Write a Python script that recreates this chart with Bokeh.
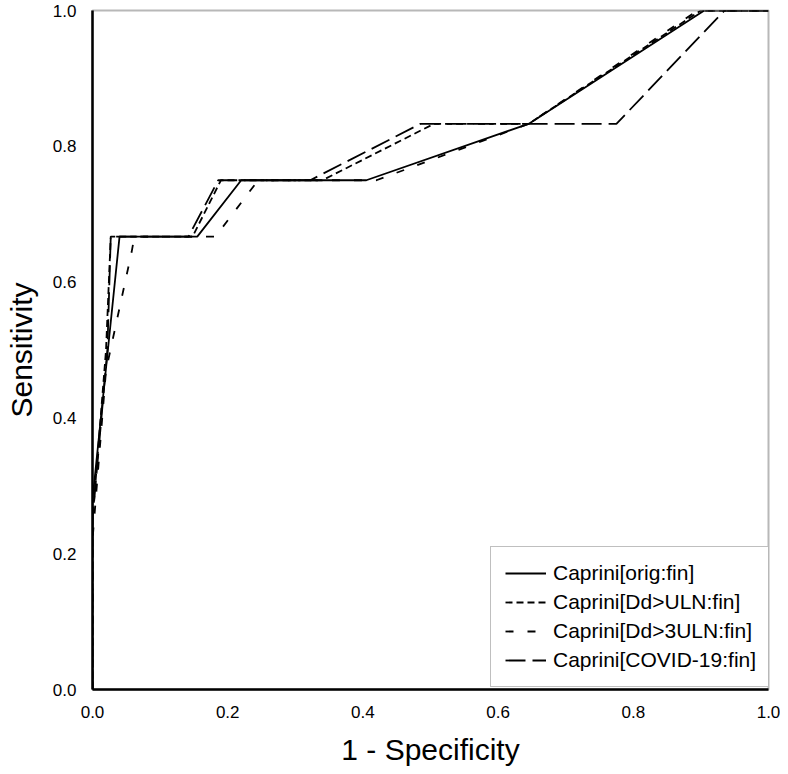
from bokeh.plotting import figure
from bokeh.models import Range1d, FixedTicker, PrintfTickFormatter, Legend, LegendItem
from bokeh.embed import file_html
from bokeh.resources import INLINE

# ROC curves: (1 - specificity, sensitivity)
orig_x = [0.0, 0.0, 0.040, 0.155, 0.220, 0.405, 0.645, 0.905, 1.0]
orig_y = [0.0, 0.28, 0.667, 0.667, 0.750, 0.750, 0.833, 1.0, 1.0]

uln_x = [0.0, 0.0, 0.020, 0.027, 0.148, 0.190, 0.340, 0.505, 0.645, 0.900, 1.0]
uln_y = [0.0, 0.25, 0.50, 0.667, 0.667, 0.750, 0.750, 0.833, 0.833, 1.0, 1.0]

uln3_x = [0.0, 0.0, 0.020, 0.058, 0.062, 0.182, 0.245, 0.420, 0.645, 0.895, 1.0]
uln3_y = [0.0, 0.22, 0.47, 0.645, 0.667, 0.667, 0.750, 0.750, 0.833, 1.0, 1.0]

covid_x = [0.0, 0.0, 0.022, 0.027, 0.142, 0.186, 0.322, 0.485, 0.775, 0.935, 1.0]
covid_y = [0.0, 0.25, 0.50, 0.667, 0.667, 0.750, 0.750, 0.833, 0.833, 1.0, 1.0]

names = ["Caprini[orig:fin]", "Caprini[Dd>ULN:fin]", "Caprini[Dd>3ULN:fin]", "Caprini[COVID-19:fin]"]
ticks = [0.0, 0.2, 0.4, 0.6, 0.8, 1.0]

FONT = "Liberation Sans"

p = figure(width=780, height=768, output_backend="svg", toolbar_location=None,
           x_range=Range1d(0, 1), y_range=Range1d(0, 1),
           min_border_left=92, min_border_right=12, min_border_top=10, min_border_bottom=78)
p.grid.visible = False
p.background_fill_color = "white"
p.outline_line_color = "#b8b8b8"
p.outline_line_width = 2

for ax in (p.xaxis, p.yaxis):
    ax.ticker = FixedTicker(ticks=ticks)
    ax.formatter = PrintfTickFormatter(format="%.1f")
    ax.major_tick_line_color = None
    ax.minor_tick_line_color = None
    ax.axis_line_color = "black"
    ax.axis_line_width = 2.5
    ax.major_label_text_font = FONT
    ax.major_label_text_font_size = "17px"
    ax.major_label_text_color = "black"
    ax.axis_label_text_font = FONT
    ax.axis_label_text_font_size = "30px"
    ax.axis_label_text_font_style = "normal"
    ax.axis_label_text_color = "black"
    ax.major_label_standoff = 10

p.xaxis.axis_label = "1 - Specificity"
p.yaxis.axis_label = "Sensitivity"
p.xaxis.axis_label_standoff = 12
p.yaxis.axis_label_standoff = 12

r1 = p.line(orig_x, orig_y, line_color="black", line_width=1.8)
r2 = p.line(uln_x, uln_y, line_color="black", line_width=1.8, line_dash="7 4")
r3 = p.line(uln3_x, uln3_y, line_color="black", line_width=1.8, line_dash="8 14")
r4 = p.line(covid_x, covid_y, line_color="black", line_width=1.8, line_dash="20 7")

legend = Legend(items=[LegendItem(label=n, renderers=[r]) for n, r in zip(names, [r1, r2, r3, r4])],
                location=(398, 2))
legend.label_text_font = FONT
legend.label_text_font_size = "21px"
legend.label_text_color = "black"
legend.glyph_width = 41
legend.glyph_height = 24
legend.label_height = 24
legend.spacing = 5
legend.padding = 14
legend.margin = 0
legend.label_standoff = 7
legend.border_line_color = "#808080"
legend.border_line_width = 1
legend.background_fill_alpha = 1.0
p.add_layout(legend)

open("out.html", "w").write(file_html(p, INLINE))
